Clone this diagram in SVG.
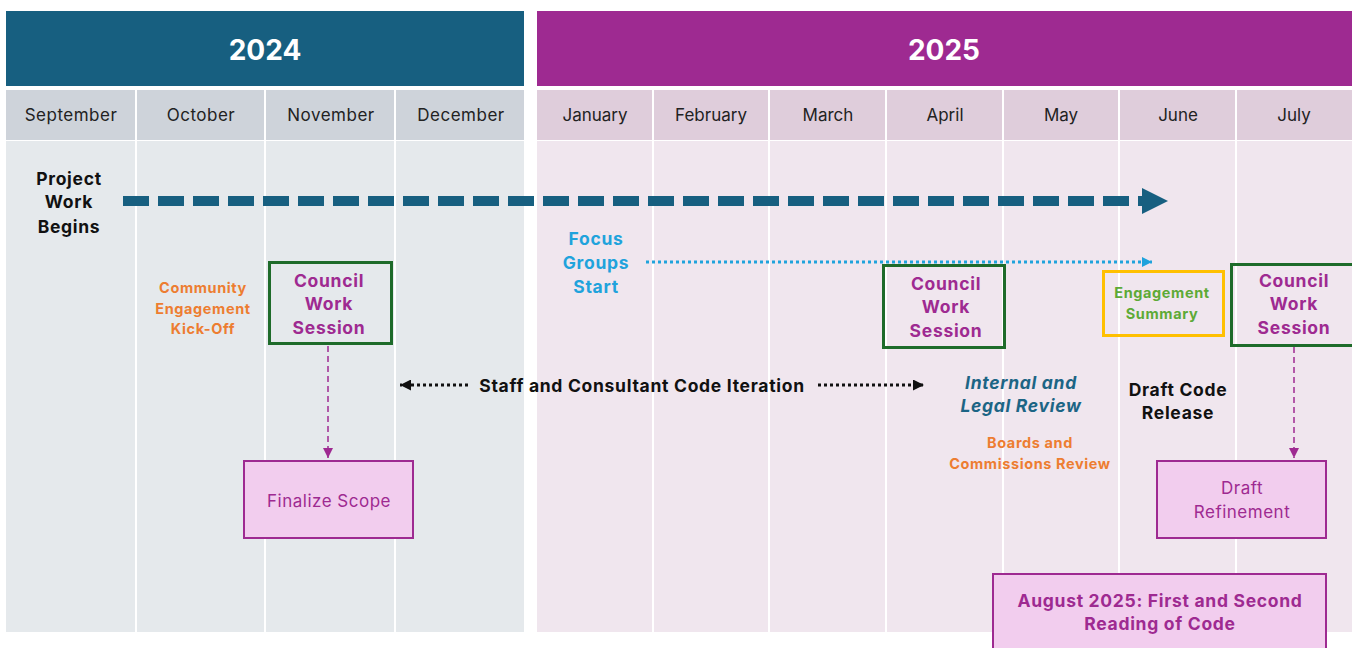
<svg xmlns="http://www.w3.org/2000/svg" width="1352" height="648" viewBox="0 0 1352 648">
  <defs>
    <style>
      text { font-family: Inter, "Liberation Sans", sans-serif; text-anchor: middle; }
      .year { font-size: 28px; font-weight: 700; fill: #ffffff; }
      .month { font-size: 17px; fill: #222222; }
      .wide { letter-spacing: 0.5px; }
      .b17 { font-size: 17.5px; font-weight: 700; letter-spacing: 0.7px; }
      .b14 { font-size: 14.5px; font-weight: 700; letter-spacing: 0.6px; }
      .reg { font-size: 17px; letter-spacing: 0.5px; }
      .black { fill: #111111; }
      .purple { fill: #9E2A91; }
      .orange { fill: #ED7D31; }
      .blue { fill: #1FA3DC; }
      .teal { fill: #1C6585; }
      .green { fill: #5DAA36; }
      .cws { fill: none; stroke: #1E6B2A; stroke-width: 3; }
      .pinkbox { fill: #F2CDEE; stroke: #9E2A91; stroke-width: 2; }
      .divider { stroke: #ffffff; stroke-width: 2; }
    </style>
    <marker id="headPurple" viewBox="0 0 10 10" refX="10" refY="5" markerWidth="10" markerHeight="10" markerUnits="userSpaceOnUse" orient="auto">
      <path d="M0,0 L10,5 L0,10 z" fill="#9E2A91"/>
    </marker>
    <marker id="headBlack" viewBox="0 0 10 10" refX="10" refY="5" markerWidth="11" markerHeight="11" markerUnits="userSpaceOnUse" orient="auto-start-reverse">
      <path d="M0,0 L10,5 L0,10 z" fill="#111111"/>
    </marker>
    <marker id="headBlue" viewBox="0 0 10 10" refX="10" refY="5" markerWidth="10" markerHeight="10" markerUnits="userSpaceOnUse" orient="auto">
      <path d="M0,0 L10,5 L0,10 z" fill="#1FA3DC"/>
    </marker>
  </defs>

  <rect width="1352" height="648" fill="#ffffff"/>

  <!-- 2024 panel -->
  <g id="panel-2024">
    <rect x="6" y="11" width="518" height="75" fill="#175F80"/>
    <text class="year" x="265" y="60">2024</text>
    <rect x="6" y="90" width="518" height="50" fill="#CED3DA"/>
    <rect x="6" y="141" width="518" height="491" fill="#E5E9EC"/>
    <line class="divider" x1="136" y1="90" x2="136" y2="632"/>
    <line class="divider" x1="265" y1="90" x2="265" y2="632"/>
    <line class="divider" x1="395" y1="90" x2="395" y2="632"/>
    <text class="month wide" x="71" y="121">September</text>
    <text class="month wide" x="201" y="121">October</text>
    <text class="month wide" x="331" y="121">November</text>
    <text class="month wide" x="461" y="121">December</text>
  </g>

  <!-- 2025 panel -->
  <g id="panel-2025">
    <rect x="537" y="11" width="815" height="75" fill="#9E2A91"/>
    <text class="year" x="944" y="60">2025</text>
    <rect x="537" y="90" width="815" height="50" fill="#DFCDDB"/>
    <rect x="537" y="141" width="815" height="491" fill="#F0E6EE"/>
    <line class="divider" x1="653" y1="90" x2="653" y2="632"/>
    <line class="divider" x1="769" y1="90" x2="769" y2="632"/>
    <line class="divider" x1="886" y1="90" x2="886" y2="632"/>
    <line class="divider" x1="1003" y1="90" x2="1003" y2="632"/>
    <line class="divider" x1="1119" y1="90" x2="1119" y2="632"/>
    <line class="divider" x1="1236" y1="90" x2="1236" y2="632"/>
    <text class="month" x="595" y="121">January</text>
    <text class="month" x="711" y="121">February</text>
    <text class="month" x="828" y="121">March</text>
    <text class="month" x="945" y="121">April</text>
    <text class="month" x="1061" y="121">May</text>
    <text class="month" x="1178" y="121">June</text>
    <text class="month" x="1294" y="121">July</text>
  </g>

  <!-- connectors -->
  <g id="connectors">
    <line x1="123" y1="201" x2="1142" y2="201" stroke="#175F80" stroke-width="10" stroke-dasharray="26 9"/>
    <path d="M1142,188 L1168,201 L1142,214 z" fill="#175F80"/>
    <line x1="646" y1="262" x2="1152" y2="262" stroke="#1FA3DC" stroke-width="3" stroke-dasharray="3 3" marker-end="url(#headBlue)"/>
    <line x1="468" y1="385" x2="400" y2="385" stroke="#111111" stroke-width="3" stroke-dasharray="3 3" marker-end="url(#headBlack)"/>
    <line x1="818" y1="385" x2="924" y2="385" stroke="#111111" stroke-width="3" stroke-dasharray="3 3" marker-end="url(#headBlack)"/>
    <line x1="328" y1="346" x2="328" y2="458" stroke="#9E2A91" stroke-width="1.5" stroke-dasharray="6 4" marker-end="url(#headPurple)"/>
    <line x1="1294" y1="347" x2="1294" y2="458" stroke="#9E2A91" stroke-width="1.5" stroke-dasharray="6 4" marker-end="url(#headPurple)"/>
  </g>

  <g id="project-work-begins">
    <text class="b17 black" x="69" y="185">Project</text>
    <text class="b17 black" x="69" y="208">Work</text>
    <text class="b17 black" x="69" y="233">Begins</text>
  </g>

  <g id="community-kickoff">
    <text class="b14 orange" x="203" y="293">Community</text>
    <text class="b14 orange" x="203" y="314">Engagement</text>
    <text class="b14 orange" x="203" y="334">Kick-Off</text>
  </g>

  <g id="council-session-1">
    <rect class="cws" x="269.5" y="262.5" width="122" height="81"/>
    <text class="b17 purple" x="329" y="287">Council</text>
    <text class="b17 purple" x="329" y="310">Work</text>
    <text class="b17 purple" x="329" y="334">Session</text>
  </g>

  <g id="finalize-scope">
    <rect class="pinkbox" x="244" y="461" width="169" height="77"/>
    <text class="reg purple" x="329" y="507">Finalize Scope</text>
  </g>

  <g id="code-iteration">
    <text class="b17 black" x="642" y="392">Staff and Consultant Code Iteration</text>
  </g>

  <g id="focus-groups">
    <text class="b17 blue" x="596" y="245">Focus</text>
    <text class="b17 blue" x="596" y="269">Groups</text>
    <text class="b17 blue" x="596" y="293">Start</text>
  </g>

  <g id="council-session-2">
    <rect class="cws" x="883.5" y="265.5" width="121" height="82"/>
    <text class="b17 purple" x="946" y="290">Council</text>
    <text class="b17 purple" x="946" y="313">Work</text>
    <text class="b17 purple" x="946" y="337">Session</text>
  </g>

  <g id="engagement-summary">
    <rect x="1103.5" y="271.5" width="120" height="64" fill="none" stroke="#FFC000" stroke-width="3"/>
    <text class="b14 green" x="1162" y="298">Engagement</text>
    <text class="b14 green" x="1162" y="319">Summary</text>
  </g>

  <g id="council-session-3">
    <rect class="cws" x="1231.5" y="264.5" width="122" height="81"/>
    <text class="b17 purple" x="1294" y="287">Council</text>
    <text class="b17 purple" x="1294" y="310">Work</text>
    <text class="b17 purple" x="1294" y="334">Session</text>
  </g>

  <g id="internal-legal-review">
    <text class="b17 teal" font-style="italic" x="1021" y="389">Internal and</text>
    <text class="b17 teal" font-style="italic" x="1021" y="412">Legal Review</text>
  </g>

  <g id="draft-code-release">
    <text class="b17 black" x="1178" y="396">Draft Code</text>
    <text class="b17 black" x="1178" y="419">Release</text>
  </g>

  <g id="boards-review">
    <text class="b14 orange" x="1030" y="448">Boards and</text>
    <text class="b14 orange" x="1030" y="469">Commissions Review</text>
  </g>

  <g id="draft-refinement">
    <rect class="pinkbox" x="1157" y="461" width="169" height="77"/>
    <text class="reg purple" x="1242" y="494">Draft</text>
    <text class="reg purple" x="1242" y="518">Refinement</text>
  </g>

  <g id="august-reading">
    <rect class="pinkbox" x="993" y="574" width="333" height="80"/>
    <text class="b17 purple" x="1160" y="607">August 2025: First and Second</text>
    <text class="b17 purple" x="1160" y="630">Reading of Code</text>
  </g>
</svg>
